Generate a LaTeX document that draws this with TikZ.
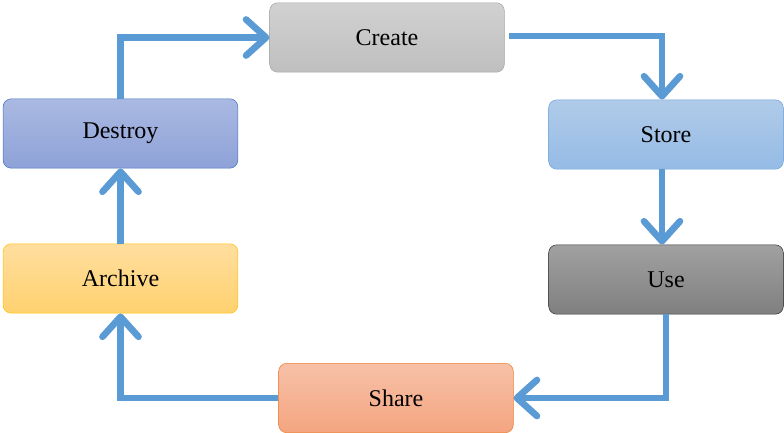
\documentclass[tikz,border=0pt]{standalone}
\usepackage{fontspec}
\setmainfont{Liberation Serif}
\usetikzlibrary{arrows.meta}

\definecolor{flowblue}{HTML}{5B9BD5}

\begin{document}
\begin{tikzpicture}[x=0.75pt,y=-0.75pt,
    box/.style={draw,rounded corners=6pt,minimum width=176pt,minimum height=52pt,inner sep=0pt,font=\fontsize{18}{22}\selectfont},
    flow/.style={draw=flowblue,line width=5pt,-{Straight Barb[length=15pt,width=27pt,round]}}]
        \useasboundingbox (0,0) rectangle (784,432);

        \node[box,top color=black!18,bottom color=black!25,draw=black!35] (create) at (387,37.5) {Create};
        \node[box,top color={rgb,255:red,176;green,203;blue,233},bottom color={rgb,255:red,149;green,187;blue,229},draw={rgb,255:red,110;green,165;blue,220}] (store) at (666,134.5) {Store};
        \node[box,top color=black!37,bottom color=black!50,draw=black!80] (use) at (666,279.5) {Use};
        \node[box,top color={rgb,255:red,247;green,193;blue,168},bottom color={rgb,255:red,244;green,165;blue,128},draw={rgb,255:red,237;green,125;blue,49}] (share) at (396,398) {Share};
        \node[box,top color={rgb,255:red,255;green,222;blue,158},bottom color={rgb,255:red,255;green,210;blue,112},draw={rgb,255:red,255;green,192;blue,0}] (archive) at (120.5,278.5) {Archive};
        \node[box,top color={rgb,255:red,170;green,185;blue,226},bottom color={rgb,255:red,142;green,162;blue,216},draw={rgb,255:red,68;green,114;blue,196}] (destroy) at (120.5,133.5) {Destroy};

        \path[flow] (create.east) ++(4,-1.5) coordinate (c1) -| ([xshift=-3pt]store.north);
        \path[flow] ([xshift=-3pt]store.south) -- ([xshift=-3pt]use.north);
        \path[flow] (use.south) |- (share.east);
        \path[flow] (share.west) -| (archive.south);
        \path[flow] (archive.north) -- (destroy.south);
        \path[flow] (destroy.north) |- (create.west);
    \end{tikzpicture}
\end{document}
